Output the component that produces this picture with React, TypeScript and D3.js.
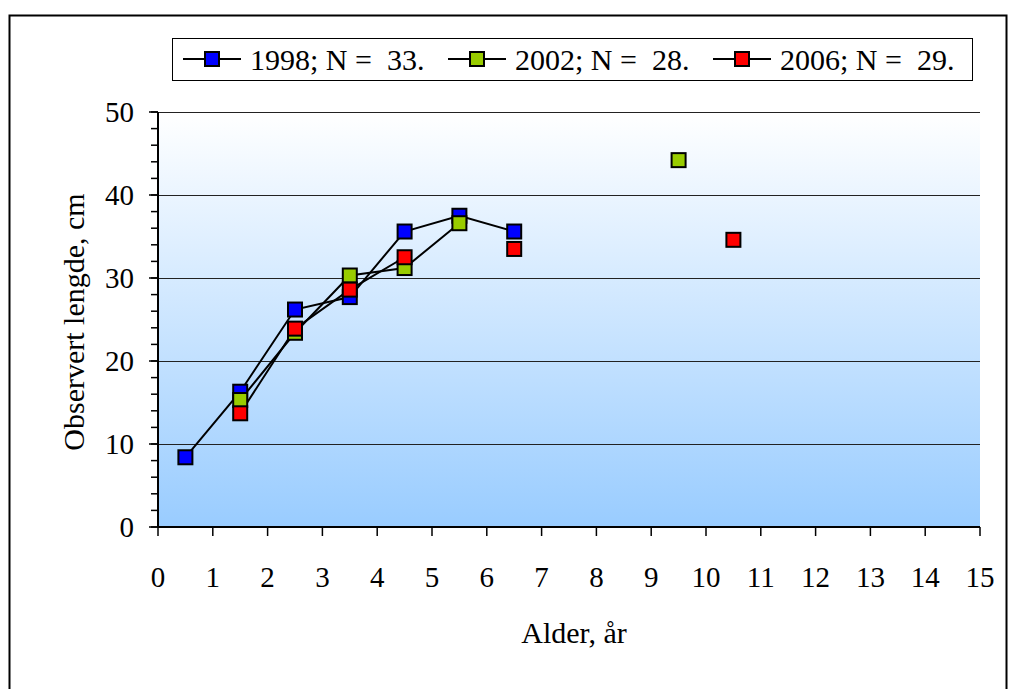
import React from "react";
import * as d3 from "d3";

const ages = [0.5, 1.5, 2.5, 3.5, 4.5, 5.5, 6.5, 7.5, 8.5, 9.5, 10.5];
const s1998: (number | null)[] = [8.4, 16.3, 26.2, 27.7, 35.6, 37.5, 35.6, null, null, null, null];
const s2002: (number | null)[] = [null, 15.3, 23.4, 30.3, 31.2, 36.6, null, null, null, 44.2, null];
const s2006: (number | null)[] = [null, 13.7, 23.9, 28.6, 32.5, null, 33.5, null, null, null, 34.6];
const seriesNames = ["1998; N =  33.", "2002; N =  28.", "2006; N =  29."];
const seriesColors = ["#0000FF", "#99CC00", "#FF0000"];
const xTicks = d3.range(0, 16);
const yTicks = [0, 10, 20, 30, 40, 50];
const yMinor = d3.range(0, 51, 2);

export default function App() {
  const W = 1016, H = 689;
  const left = 158, right = 980, top = 112, bottom = 527;
  const x = d3.scaleLinear().domain([0, 15]).range([left, right]);
  const y = d3.scaleLinear().domain([0, 50]).range([bottom, top]);
  const allSeries = [s1998, s2002, s2006];
  const line = d3
    .line<[number, number | null]>()
    .defined((d) => d[1] !== null)
    .x((d) => x(d[0]))
    .y((d) => y(d[1] as number));
  const font = "'Liberation Serif', 'Times New Roman', serif";
  const ms = 14;
  const legendItems = [
    { lx: 183, tx: 250 },
    { lx: 448, tx: 515 },
    { lx: 713, tx: 780 },
  ];
  return (
    <svg width={W} height={H} style={{ position: "absolute", left: 0, top: 0 }} fontFamily={font}>
      <defs>
        <linearGradient id="bg" x1="0" y1="0" x2="0" y2="1">
          <stop offset="0" stopColor="#FFFFFF" />
          <stop offset="1" stopColor="#99CCFF" />
        </linearGradient>
      </defs>
      <rect x={0} y={0} width={W} height={H} fill="#fff" />
      <rect x={9.5} y={15.5} width={997} height={700} fill="none" stroke="#000" strokeWidth={2} />
      <rect x={left} y={top} width={right - left} height={bottom - top} fill="url(#bg)" />
      {yTicks.slice(1).map((t) => (
        <line key={t} x1={left} x2={right} y1={Math.round(y(t)) + 0.5} y2={Math.round(y(t)) + 0.5} stroke="#222" strokeWidth={1} />
      ))}
      {/* y axis */}
      <line x1={left} x2={left} y1={top} y2={bottom} stroke="#000" strokeWidth={2} />
      {yMinor.map((t) => (
        <line key={t} x1={left - 7} x2={left} y1={y(t)} y2={y(t)} stroke="#000" strokeWidth={1.5} />
      ))}
      {yTicks.map((t) => (
        <line key={"M" + t} x1={left - 9} x2={left} y1={y(t)} y2={y(t)} stroke="#000" strokeWidth={1.5} />
      ))}
      {yTicks.map((t) => (
        <text key={"L" + t} x={134} y={y(t)} dy="0.35em" textAnchor="end" fontSize={29}>
          {t}
        </text>
      ))}
      {/* x axis */}
      <line x1={left} x2={right} y1={bottom} y2={bottom} stroke="#000" strokeWidth={2} />
      {xTicks.map((t) => (
        <line key={t} x1={x(t)} x2={x(t)} y1={bottom} y2={bottom + 9} stroke="#000" strokeWidth={1.5} />
      ))}
      {xTicks.map((t) => (
        <text key={"L" + t} x={x(t)} y={587} textAnchor="middle" fontSize={29}>
          {t}
        </text>
      ))}
      <text x={574} y={643} textAnchor="middle" fontSize={30}>
        Alder, år
      </text>
      <text transform="translate(84,322) rotate(-90)" textAnchor="middle" fontSize={30}>
        Observert lengde, cm
      </text>
      {/* series */}
      {allSeries.map((s, i) => (
        <path
          key={"p" + i}
          d={line(ages.map((a, j) => [a, s[j]] as [number, number | null])) || ""}
          fill="none"
          stroke="#000"
          strokeWidth={2}
        />
      ))}
      {allSeries.map((s, i) =>
        ages.map((a, j) =>
          s[j] === null ? null : (
            <rect
              key={i + "-" + j}
              x={x(a) - ms / 2}
              y={y(s[j] as number) - ms / 2}
              width={ms}
              height={ms}
              fill={seriesColors[i]}
              stroke="#000"
              strokeWidth={2}
            />
          )
        )
      )}
      {/* legend */}
      <rect x={172.5} y={38.5} width={800} height={42} fill="#fff" stroke="#000" strokeWidth={1} />
      {legendItems.map((it, i) => (
        <g key={"lg" + i}>
          <line x1={it.lx} x2={it.lx + 58} y1={59} y2={59} stroke="#000" strokeWidth={2} />
          <rect x={it.lx + 29 - 7} y={52} width={14} height={14} fill={seriesColors[i]} stroke="#000" strokeWidth={2} />
          <text x={it.tx} y={70} fontSize={30} style={{ whiteSpace: "pre" }}>
            {seriesNames[i]}
          </text>
        </g>
      ))}
    </svg>
  );
}
